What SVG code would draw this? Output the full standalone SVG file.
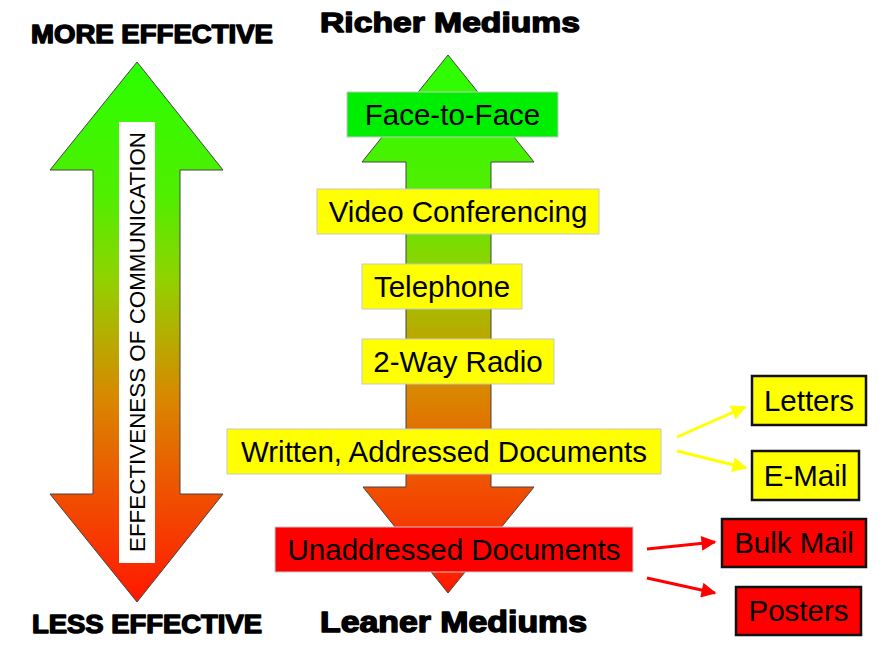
<svg xmlns="http://www.w3.org/2000/svg" width="888" height="650" viewBox="0 0 888 650">
<defs>
<linearGradient id="grad" x1="0" y1="0" x2="0" y2="1">
<stop offset="0" stop-color="#2aff00"/>
<stop offset="0.25" stop-color="#50ee00"/>
<stop offset="0.4" stop-color="#90d200"/>
<stop offset="0.5" stop-color="#b2b000"/>
<stop offset="0.62" stop-color="#d88800"/>
<stop offset="0.8" stop-color="#f05000"/>
<stop offset="1" stop-color="#ff1800"/>
</linearGradient>
<marker id="ay" viewBox="0 0 10 10" refX="9" refY="5" markerWidth="5.5" markerHeight="5" orient="auto" markerUnits="strokeWidth">
<path d="M0,0 L10,5 L0,10 z" fill="#ffff00"/>
</marker>
<marker id="ar" viewBox="0 0 10 10" refX="9" refY="5" markerWidth="5.5" markerHeight="5" orient="auto" markerUnits="strokeWidth">
<path d="M0,0 L10,5 L0,10 z" fill="#ff0000"/>
</marker>
</defs>
<style>
.big{font-family:"Liberation Sans",Arial,sans-serif;font-weight:bold;fill:#000;stroke:#000;stroke-width:1.4;stroke-linejoin:round}
.lbl{font-family:"Liberation Sans",Arial,sans-serif;font-size:29.5px;fill:#000;text-anchor:middle}
.arr{fill:url(#grad);stroke:#444;stroke-width:1}
.mbox{stroke:#c8c8c8;stroke-width:1}
.rbox{stroke:#111;stroke-width:2.5}
.ylw{fill:#ffff00}
.red{fill:#ff0000}
.grn{fill:#00ee00}
</style>

<g id="headers">
<text class="big" x="31" y="43" font-size="25" textLength="242" lengthAdjust="spacingAndGlyphs">MORE EFFECTIVE</text>
<text class="big" x="32" y="633" font-size="25" textLength="230" lengthAdjust="spacingAndGlyphs">LESS EFFECTIVE</text>
<text class="big" x="320" y="32" font-size="28" textLength="260" lengthAdjust="spacingAndGlyphs">Richer Mediums</text>
<text class="big" x="320" y="632" font-size="29" textLength="267" lengthAdjust="spacingAndGlyphs">Leaner Mediums</text>
</g>

<g id="left-arrow">
<polygon class="arr" points="137,62 223,170 180,170 180,494 223,494 137,602 50,494 93,494 93,170 50,170"/>
<rect x="119" y="122" width="36" height="441" fill="#ffffff"/>
<text transform="translate(145,342) rotate(-90)" font-family="'Liberation Sans',Arial,sans-serif" font-size="22" text-anchor="middle" textLength="420" lengthAdjust="spacingAndGlyphs">EFFECTIVENESS OF COMMUNICATION</text>
</g>

<g id="middle-arrow">
<polygon class="arr" points="448,55 534,162 491,162 491,487 534,487 448,593 363,487 406,487 406,162 362,162"/>
</g>

<g id="face-to-face">
<rect class="mbox grn" x="347" y="92" width="211" height="45"/>
<text class="lbl" x="452.5" y="125">Face-to-Face</text>
</g>
<g id="video-conferencing">
<rect class="mbox ylw" x="317" y="189" width="282" height="45"/>
<text class="lbl" x="458" y="222">Video Conferencing</text>
</g>
<g id="telephone">
<rect class="mbox ylw" x="362" y="264" width="160" height="45"/>
<text class="lbl" x="442" y="297">Telephone</text>
</g>
<g id="two-way-radio">
<rect class="mbox ylw" x="362" y="339" width="192" height="45"/>
<text class="lbl" x="458" y="372">2-Way Radio</text>
</g>
<g id="written-documents">
<rect class="mbox ylw" x="227" y="429" width="434" height="45"/>
<text class="lbl" x="444" y="462">Written, Addressed Documents</text>
</g>
<g id="unaddressed-documents">
<rect class="mbox red" x="275" y="527" width="358" height="45"/>
<text class="lbl" x="454" y="560">Unaddressed Documents</text>
</g>

<g id="letters">
<rect class="rbox ylw" x="752" y="376" width="114" height="49"/>
<text class="lbl" x="809" y="411">Letters</text>
</g>
<g id="e-mail">
<rect class="rbox ylw" x="752" y="451" width="107" height="49"/>
<text class="lbl" x="805.5" y="486">E-Mail</text>
</g>
<g id="bulk-mail">
<rect class="rbox red" x="722" y="519" width="144" height="48"/>
<text class="lbl" x="794" y="553">Bulk Mail</text>
</g>
<g id="posters">
<rect class="rbox red" x="736" y="587" width="125" height="48"/>
<text class="lbl" x="798.5" y="621">Posters</text>
</g>

<g id="connectors" stroke-width="3" fill="none">
<line x1="677" y1="437" x2="745" y2="407" stroke="#ffff00" marker-end="url(#ay)"/>
<line x1="677" y1="451" x2="746" y2="468" stroke="#ffff00" marker-end="url(#ay)"/>
<line x1="647" y1="549" x2="715" y2="542" stroke="#ff0000" marker-end="url(#ar)"/>
<line x1="647" y1="578" x2="715" y2="593" stroke="#ff0000" marker-end="url(#ar)"/>
</g>
</svg>
